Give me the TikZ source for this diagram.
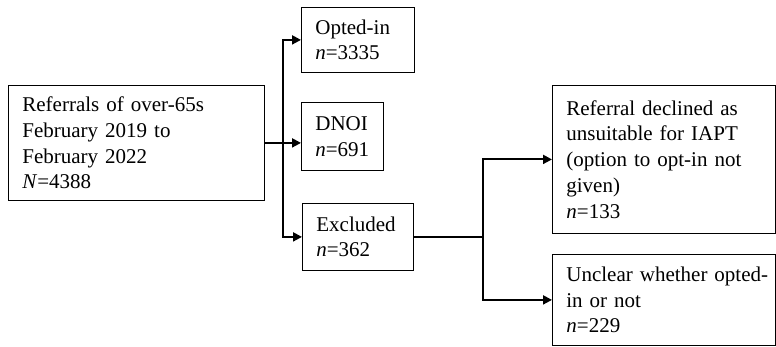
\documentclass[tikz,border=0pt]{standalone}
\usepackage{fontspec}
\setmainfont{Liberation Serif}
\usetikzlibrary{arrows.meta}

\tikzset{
  box/.style={draw, line width=0.8pt, rectangle, anchor=north west, align=left,
    inner xsep=14pt, inner ysep=0pt, font=\fontsize{21}{25.7}\selectfont},
  flow/.style={line width=2pt, -{Triangle[length=9pt,width=9pt]}},
  plainflow/.style={line width=2pt}
}

\begin{document}
\begin{tikzpicture}[x=1pt,y=-1pt]
  \useasboundingbox (0,0) rectangle (776,346);
  % ---- first stage: all referrals ----
  \node[box, text width=228pt, minimum height=115pt] (referrals) at (8,85)
    {Referrals of over-65s\\February 2019 to\\February 2022\\\textit{N}=4388};
  \node[box, text width=85pt, minimum height=65pt] (optin) at (301,7)
    {Opted-in\\\textit{n}=3335};
  \node[box, text width=54pt, minimum height=68pt] (dnoi) at (301,102)
    {DNOI\\\textit{n}=691};
  \node[box, text width=83pt, minimum height=67pt] (excluded) at (302,203)
    {Excluded\\\textit{n}=362};
  % ---- second stage: the excluded ones ----
  \node[box, text width=195pt, minimum height=148pt] (declined) at (552,85)
    {\mbox{Referral declined as}\\\mbox{unsuitable for IAPT}\\\mbox{(option to opt-in not}\\given)\\\textit{n}=133};
  \node[box, text width=195pt, minimum height=91pt] (unclear) at (552,254)
    {\mbox{Unclear whether opted-}\\in or not\\\textit{n}=229};
  % ---- connectors ----
  \coordinate (trunk) at (283,0);
  \coordinate (split) at (referrals.east -| trunk);
  \draw[flow] (referrals.east) -- (referrals.east -| dnoi.west);
  \draw[flow] (split) |- (optin.west);
  \draw[flow] (split) |- (excluded.west);
  \coordinate (trunkb) at (483,0);
  \coordinate (splitb) at (excluded.east -| trunkb);
  \draw[plainflow] (excluded.east) -- (splitb);
  \draw[flow] (splitb) |- (declined.west);
  \draw[flow] (splitb) |- (unclear.west);
\end{tikzpicture}
\end{document}
